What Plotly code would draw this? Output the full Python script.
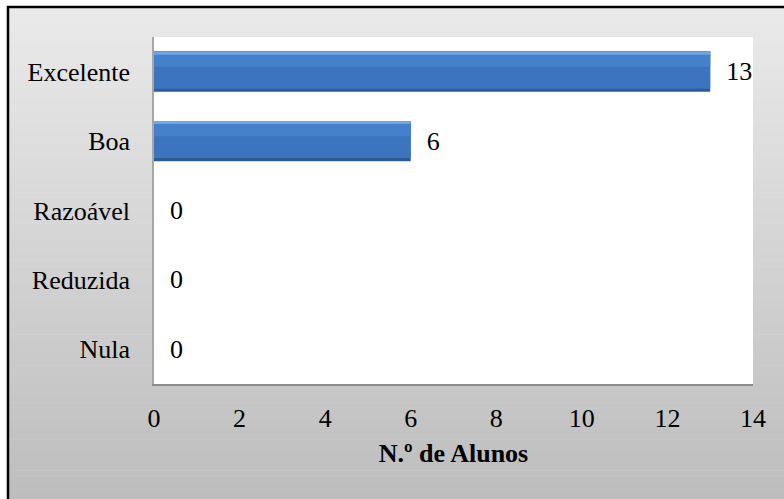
import plotly.graph_objects as go

categories = ["Excelente", "Boa", "Razoável", "Reduzida", "Nula"]
values = [13, 6, 0, 0, 0]
x_ticks = [0, 2, 4, 6, 8, 10, 12, 14]
x_title = "N.º de Alunos"

W, H = 784, 499
L, R, T, B = 154, 31, 37, 115
PW, PH = W - L - R, H - T - B

def px(x):
    return (x - L) / PW

def py(y):
    return (H - B - y) / PH

FONT = "'Times New Roman', 'Liberation Serif', serif"
FS = 26
BW = 0.58

fig = go.Figure()
fig.add_trace(go.Bar(
    y=categories, x=values, orientation="h",
    width=BW,
    marker=dict(color="#2d5b96", line=dict(width=0)),
    text=values,
    texttemplate="\u00a0\u00a0%{x}",
    textposition="outside",
    textfont=dict(family=FONT, size=FS, color="#000000"),
    cliponaxis=False,
    showlegend=False, hoverinfo="skip",
))
fig.add_trace(go.Bar(
    y=categories, x=values, orientation="h",
    width=BW - 0.045, offset=-BW / 2,
    marker=dict(color="#3c74bf", line=dict(width=0)),
    showlegend=False, hoverinfo="skip",
))
fig.add_trace(go.Bar(
    y=categories, x=values, orientation="h",
    width=0.22, offset=-BW / 2,
    marker=dict(color="#4480cb", line=dict(width=0)),
    showlegend=False, hoverinfo="skip",
))
fig.add_trace(go.Bar(
    y=categories, x=values, orientation="h",
    width=0.045, offset=-BW / 2,
    marker=dict(color="#6fa6e3", line=dict(width=0)),
    showlegend=False, hoverinfo="skip",
))

shapes = []
top_y, bot_y = 7, H + 2
n = 80
c0, c1 = 234, 189
for i in range(n):
    y0 = top_y + (bot_y - top_y) * i / n
    y1 = top_y + (bot_y - top_y) * (i + 1) / n
    c = round(c0 + (c1 - c0) * (i + 0.5) / n)
    shapes.append(dict(type="rect", xref="paper", yref="paper",
                       x0=px(8), x1=px(W + 5), y0=py(y1 + 0.5), y1=py(y0),
                       fillcolor=f"rgb({c},{c},{c})", line=dict(width=0), layer="below"))
shapes.append(dict(type="rect", xref="paper", yref="paper", x0=0, x1=1, y0=0, y1=1,
                   fillcolor="white", line=dict(width=0), layer="below"))
shapes.append(dict(type="rect", xref="paper", yref="paper",
                   x0=px(8), x1=px(W + 10), y0=py(H + 10), y1=py(7),
                   fillcolor="rgba(0,0,0,0)", line=dict(color="black", width=2.5), layer="above"))

fig.update_layout(
    width=W, height=H,
    margin=dict(l=L, r=R, t=T, b=B, autoexpand=False),
    paper_bgcolor="white",
    plot_bgcolor="rgba(0,0,0,0)",
    barmode="overlay",
    shapes=shapes,
    font=dict(family=FONT, size=FS, color="#000000"),
    xaxis=dict(
        range=[0, 14], tickvals=x_ticks, ticktext=[str(t) for t in x_ticks],
        showgrid=False, zeroline=False, showline=True, linecolor="#8c8c8c", linewidth=2,
        ticks="", ticklabelstandoff=10,
        tickfont=dict(family=FONT, size=FS, color="#000000"),
        title=dict(text="<b>" + x_title + "</b>", standoff=12,
                   font=dict(family=FONT, size=FS, color="#000000")),
        automargin=False, fixedrange=True,
    ),
    yaxis=dict(
        categoryorder="array", categoryarray=categories, autorange="reversed",
        showgrid=False, zeroline=False, showline=True, linecolor="#a6a6a6", linewidth=1.5,
        ticks="", ticklabelstandoff=17,
        tickfont=dict(family=FONT, size=FS, color="#000000"),
        automargin=False, fixedrange=True,
    ),
)

fig.write_html("out.html")
